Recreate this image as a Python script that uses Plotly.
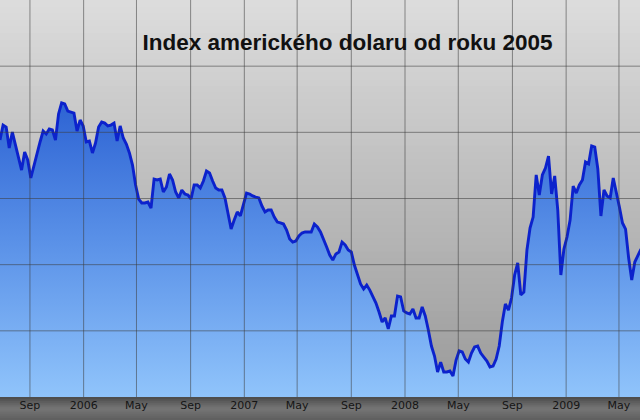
import plotly.graph_objects as go
import pandas as pd

# Weekly readings of the US dollar index, starting 2005-06-25
start_date = "2005-06-25"
values = [
    89.42, 90.55, 90.40, 88.82, 90.02, 89.04, 87.91, 87.15, 88.51, 87.91,
    86.55, 87.53, 88.29, 89.27, 90.10, 89.87, 90.25, 90.18, 89.42, 91.39,
    92.22, 92.14, 91.61, 91.54, 91.46, 90.10, 90.93, 90.48, 89.27, 89.34,
    88.44, 89.19, 90.40, 90.78, 90.70, 90.48, 90.55, 90.70, 89.34, 90.48,
    89.57, 89.12, 88.44, 87.53, 86.02, 84.96, 84.66, 84.66, 84.73, 84.28,
    86.47, 86.40, 86.47, 85.49, 85.87, 86.85, 86.40, 85.49, 85.04, 85.64,
    85.34, 85.26, 84.96, 86.02, 86.02, 85.79, 86.32, 87.08, 86.93, 86.32,
    85.79, 85.64, 85.64, 85.04, 83.75, 82.69, 83.37, 83.98, 83.68, 84.66,
    85.41, 85.34, 85.19, 85.11, 85.04, 84.43, 83.98, 84.13, 84.13, 83.60,
    83.22, 83.15, 83.07, 82.62, 81.94, 81.71, 81.79, 82.17, 82.39, 82.47,
    82.47, 82.47, 83.07, 82.85, 82.47, 81.94, 81.33, 80.73, 80.35, 80.81,
    80.96, 81.71, 81.49, 81.11, 80.96, 79.97, 79.29, 78.54, 78.16, 78.46,
    78.08, 77.63, 77.10, 76.42, 75.67, 75.97, 75.14, 76.12, 76.12, 77.63,
    77.56, 76.50, 76.35, 76.27, 76.65, 75.97, 75.97, 76.80, 76.12, 75.06,
    73.85, 73.10, 71.89, 72.64, 71.89, 71.89, 71.96, 71.59, 72.79, 73.48,
    73.40, 72.87, 72.64, 73.32, 73.78, 73.85, 73.32, 73.02, 72.72, 72.27,
    72.34, 72.87, 73.85, 75.67, 77.03, 76.57, 77.48, 79.22, 80.13, 77.71,
    77.93, 81.11, 82.77, 83.60, 86.78, 85.26, 86.78, 87.30, 88.21, 85.34,
    86.70, 84.13, 79.22, 81.18, 82.09, 83.37, 85.94, 85.41, 86.02, 86.40,
    87.76, 87.61, 88.97, 88.89, 87.23, 83.68, 85.64, 85.19, 85.04, 86.55,
    85.57, 84.36, 83.15, 82.69, 80.50, 78.84, 80.20, 80.65, 81.18,
]
dates = pd.date_range(start_date, periods=len(values), freq="7D")

tick_dates = ["2005-09-01", "2006-01-01", "2006-05-01", "2006-09-01",
              "2007-01-01", "2007-05-01", "2007-09-01", "2008-01-01",
              "2008-05-01", "2008-09-01", "2009-01-01", "2009-05-01"]
tick_labels = ["Sep", "2006", "May", "Sep", "2007", "May", "Sep", "2008",
               "May", "Sep", "2009", "May"]
y_grid = [75, 80, 85, 90, 95]
x_range = ["2005-06-25", "2009-06-17 19:00"]
y_range = [70, 100]

title_text = "Index amerického dolaru od roku 2005"


def lerp(c1, c2, t):
    return tuple(round(a + (b - a) * t) for a, b in zip(c1, c2))


shapes = []
# plot background gradient (light gray top -> darker gray bottom)
n = 60
top_c, bot_c = (220, 220, 220), (154, 154, 154)
for i in range(n):
    t = i / (n - 1)
    c = lerp(top_c, bot_c, t)
    shapes.append(dict(type="rect", xref="paper", yref="paper",
                       x0=0, x1=1, y0=1 - (i + 1.8) / n, y1=1 - i / n,
                       fillcolor="rgb(%d,%d,%d)" % c, line_width=0,
                       layer="below"))
# bottom axis bar gradient
bar_h = 23 / 397
m = 12
for i in range(m):
    t = i / (m - 1)
    if t < 0.5:
        c = lerp((78, 78, 78), (118, 118, 118), t / 0.5)
    else:
        c = lerp((118, 118, 118), (96, 96, 96), (t - 0.5) / 0.5)
    shapes.append(dict(type="rect", xref="paper", yref="paper",
                       x0=0, x1=1, y0=-bar_h * (i + 1.8) / m,
                       y1=-bar_h * i / m,
                       fillcolor="rgb(%d,%d,%d)" % c, line_width=0,
                       layer="below"))
# grid lines drawn over the area
grid_col = "rgba(60,60,60,0.55)"
for d in tick_dates:
    shapes.append(dict(type="line", xref="x", yref="paper", x0=d, x1=d,
                       y0=0, y1=1, line=dict(color=grid_col, width=1),
                       layer="above"))
for v in y_grid:
    shapes.append(dict(type="line", xref="paper", yref="y", x0=0, x1=1,
                       y0=v, y1=v, line=dict(color=grid_col, width=1),
                       layer="above"))

fig = go.Figure()
fig.add_trace(go.Scatter(
    x=dates, y=values, mode="lines",
    line=dict(color="#0c22cc", width=2.9),
    fill="tozeroy",
    fillgradient=dict(type="vertical", start=70, stop=93,
                      colorscale=[[0, "#90c4fb"], [0.5, "#5b92e8"],
                                  [1, "#2a60d2"]]),
    hoverinfo="skip",
))

fig.update_layout(
    width=640, height=420,
    margin=dict(l=0, r=0, t=0, b=23),
    paper_bgcolor="#6a6a6a",
    plot_bgcolor="rgba(0,0,0,0)",
    showlegend=False,
    shapes=shapes,
    title=dict(text=title_text, x=0.543, xanchor="center",
               y=1 - 42 / 420, yanchor="middle",
               font=dict(family="Liberation Sans", size=22.5, color="#111",
                         weight="bold")),
    xaxis=dict(range=x_range, tickvals=tick_dates, ticktext=tick_labels,
               showgrid=False, zeroline=False, showline=False, ticks="",
               tickfont=dict(family="DejaVu Sans", size=11, color="#151515"),
               fixedrange=True),
    yaxis=dict(range=y_range, showgrid=False, zeroline=False,
               showticklabels=False, showline=False, ticks="",
               fixedrange=True),
)

fig.write_html("out.html", config={"displayModeBar": False},
               post_script="document.body.style.margin='0';"
                           "document.body.style.overflow='hidden';")
